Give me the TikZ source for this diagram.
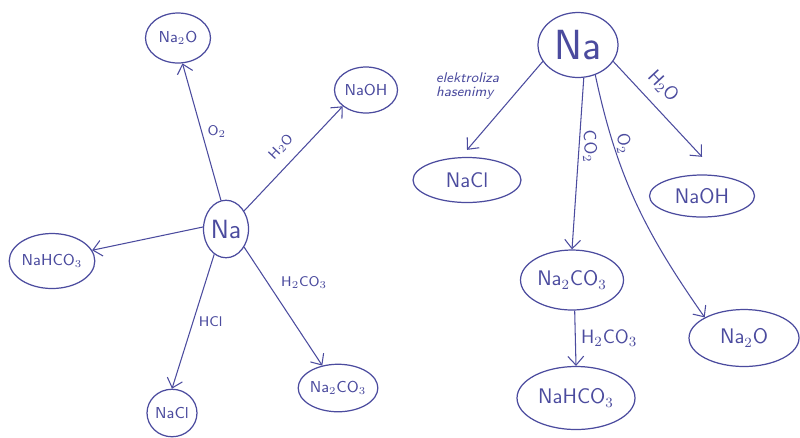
\documentclass[tikz,border=0pt]{standalone}
\usepackage{xcolor}
\definecolor{inkBlue}{HTML}{4B4B9E}
\usetikzlibrary{shapes.geometric, arrows.meta, positioning}

\begin{document}
\begin{tikzpicture}[
        x=0.02cm, y=-0.02cm,
        >={Straight Barb[length=5pt,width=9pt]},
        speciesNode/.style={
            draw=inkBlue,
            ellipse,
            inner sep=0pt,
            line width=0.7pt,
            text=inkBlue,
            font=\sffamily\fontsize{9}{10}\selectfont
        },
        bigSpecies/.style={
            speciesNode,
            font=\sffamily\fontsize{12}{13}\selectfont
        },
        reactLine/.style={
            ->,
            inkBlue,
            line width=0.6pt
        },
        reagent/.style={
            text=inkBlue,
            font=\sffamily\fontsize{8}{9}\selectfont,
            inner sep=3pt
        }
    ]
    \useasboundingbox (0,0) rectangle (800,437);

    % Left scheme: sodium in the middle
    \node[speciesNode, minimum width=0.9cm, minimum height=1.15cm, font=\sffamily\fontsize{15}{16}\selectfont] (naL) at (226,229) {Na};
    \node[speciesNode, minimum width=1.3cm, minimum height=1.0cm] (naOL) at (178,38) {Na$_2$O};
    \node[speciesNode, minimum width=1.26cm, minimum height=0.92cm] (naOHL) at (366,90) {NaOH};
    \node[speciesNode, minimum width=1.7cm, minimum height=1.1cm] (naHCOL) at (52,261) {NaHCO$_3$};
    \node[speciesNode, minimum width=1.0cm, minimum height=0.95cm] (naClL) at (172,413) {NaCl};
    \node[speciesNode, minimum width=1.46cm, minimum height=0.95cm] (naCOL) at (338,388) {Na$_2$CO$_3$};

    \draw[reactLine] (naL.100) -- (naOL.-80) node[midway, right, reagent] {O$_2$};
    \draw[reactLine] (naL.45) -- (naOHL.-145) node[midway, sloped, above=3pt, reagent] {H$_2$O};
    \draw[reactLine] (naL.175) -- (naHCOL.15);
    \draw[reactLine] (naL.-115) -- (naClL.north) node[midway, right, reagent] {HCl};
    \draw[reactLine] (naL.-45) -- (naCOL.125) node[pos=0.4, above right, reagent] {H$_2$CO$_3$};

    % Right scheme: sodium on top
    \node[bigSpecies, minimum width=1.6cm, minimum height=1.3cm, font=\sffamily\fontsize{24}{26}\selectfont] (naR) at (578,45) {Na};
    \node[bigSpecies, minimum width=2.16cm, minimum height=0.9cm] (naClR) at (467,180) {NaCl};
    \node[bigSpecies, minimum width=2.1cm, minimum height=0.84cm] (naOHR) at (702,196) {NaOH};
    \node[bigSpecies, minimum width=2.06cm, minimum height=1.2cm] (naCOR) at (572,280) {Na$_2$CO$_3$};
    \node[bigSpecies, minimum width=2.36cm, minimum height=1.26cm] (naHCOR) at (576,398) {NaHCO$_3$};
    \node[bigSpecies, minimum width=2.2cm, minimum height=1.14cm] (naOR) at (744,338) {Na$_2$O};

    \draw[reactLine] (naR.-155) -- ([yshift=4pt]naClR.north) node[midway, above left, reagent, align=left, font=\sffamily\itshape\fontsize{8}{8}\selectfont] {elektroliza\\hasenimy};
    \draw[reactLine] (naR.-80) -- (naCOR.north) node[pos=0.4, xshift=6pt, rotate=-85, reagent, font=\sffamily\fontsize{10}{11}\selectfont] {CO$_2$};
    \draw[reactLine] (naR.-60) to[out=-78, in=125] node[pos=0.25, xshift=6pt, rotate=-80, reagent, font=\sffamily\fontsize{10}{11}\selectfont] {O$_2$} (naOR.north west);
    \draw[reactLine] (naR.-25) -- ([yshift=10pt]naOHR.north) node[pos=0.4, sloped, above=3pt, reagent, font=\sffamily\fontsize{11}{12}\selectfont] {H$_2$O};
    \draw[reactLine] (naCOR.-85) -- (naHCOR.north) node[midway, right, reagent, font=\sffamily\fontsize{11}{12}\selectfont] {H$_2$CO$_3$};
\end{tikzpicture}
\end{document}
